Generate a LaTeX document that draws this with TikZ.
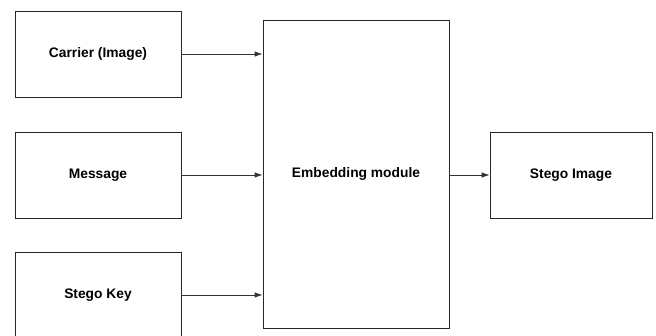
\documentclass[tikz,border=0pt]{standalone}
\usepackage{fontspec}
\setmainfont{Liberation Sans}
\usetikzlibrary{arrows.meta}
\begin{document}
\begin{tikzpicture}[x=1pt,y=-1pt,
  blk/.style={draw=black!85, line width=0.8pt, fill=white, inner sep=0pt,
    font=\fontsize{13.8}{16}\selectfont\bfseries},
  conn/.style={draw=black!80, line width=0.8pt, -{Latex[length=8pt,width=5.5pt]}}]
\useasboundingbox (0,0) rectangle (656,335);
\node[blk, minimum width=166pt, minimum height=86pt] (carrier) at (98,54) {Carrier (Image)};
\node[blk, minimum width=166pt, minimum height=86pt] (message) at (98,175) {Message};
\node[blk, minimum width=166pt, minimum height=86pt] (key) at (98,295) {Stego Key};
\node[blk, minimum width=186pt, minimum height=308pt] (embed) at (356,174) {Embedding module};
\node[blk, minimum width=162pt, minimum height=86pt] (stego) at (571,175) {Stego Image};
\draw[conn] (carrier.east) -- (carrier.east -| embed.west);
\draw[conn] (message.east) -- (message.east -| embed.west);
\draw[conn] (key.east) -- (key.east -| embed.west);
\draw[conn] (stego.west -| embed.east) -- (stego.west);
\end{tikzpicture}
\end{document}
